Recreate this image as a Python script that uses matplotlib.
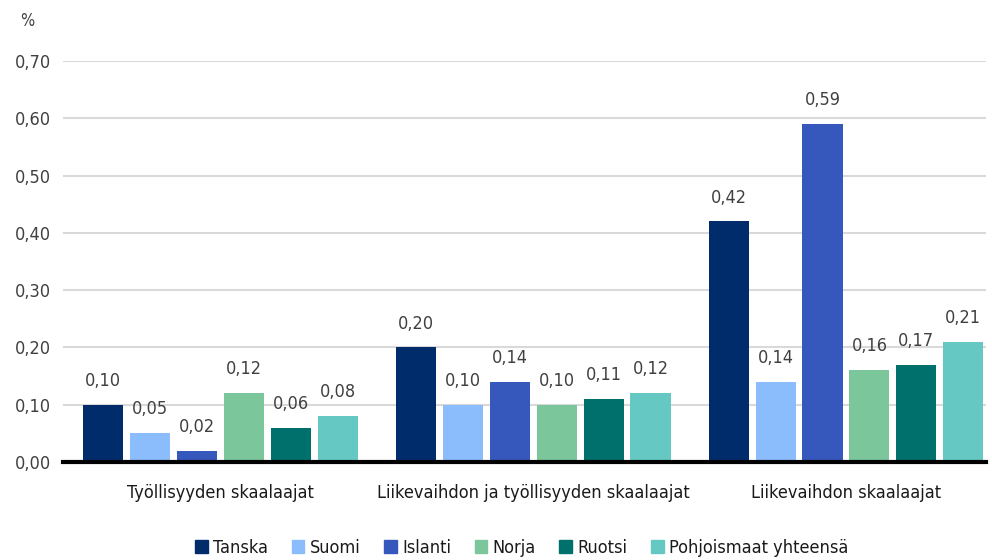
import numpy as np
import matplotlib
matplotlib.use('Agg')
import matplotlib.pyplot as plt
from matplotlib.patches import Patch

plt.rcParams['font.family'] = ['DejaVu Sans']
plt.rcParams['font.stretch'] = 'condensed'

groups = ['Työllisyyden skaalaajat', 'Liikevaihdon ja työllisyyden skaalaajat', 'Liikevaihdon skaalaajat']
series = ['Tanska', 'Suomi', 'Islanti', 'Norja', 'Ruotsi', 'Pohjoismaat yhteensä']
colors = ['#002C6B', '#8BBCFB', '#3658BC', '#7BC69A', '#00706D', '#66C8C3']

tanska = [0.10, 0.20, 0.42]
suomi = [0.05, 0.10, 0.14]
islanti = [0.02, 0.14, 0.59]
norja = [0.12, 0.10, 0.16]
ruotsi = [0.06, 0.11, 0.17]
pohjoismaat = [0.08, 0.12, 0.21]
values = [tanska, suomi, islanti, norja, ruotsi, pohjoismaat]

yticks = [0.0, 0.1, 0.2, 0.3, 0.4, 0.5, 0.6, 0.7]

fig = plt.figure(figsize=(9.92, 5.6), dpi=100, facecolor='white')
ax = fig.add_axes([0.064, 0.175, 0.93, 0.716])

x = np.arange(len(groups))
pitch = 0.150
width = 0.128
txt = '#404040'
for i, (name, vals, c) in enumerate(zip(series, values, colors)):
    pos = x + (i - 2.5) * pitch
    ax.bar(pos, vals, width=width, color=c, zorder=3)
    for p, v in zip(pos, vals):
        ax.text(p, v + 0.026, f'{v:.2f}'.replace('.', ','), ha='center', va='bottom',
                fontsize=13, color=txt)

ax.set_xlim(-0.502, 2.448)
ax.set_ylim(0, 0.7)
ax.set_yticks(yticks)
ax.set_yticklabels([f'{t:.2f}'.replace('.', ',') for t in yticks], fontsize=13, color=txt)
ax.set_xticks(x)
ax.set_xticklabels(groups, fontsize=13, color='#1a1a1a')
ax.tick_params(axis='both', length=0, pad=9)
ax.tick_params(axis='x', pad=16)
ax.grid(axis='y', color='#d9d9d9', linewidth=1.5, zorder=0)
for s in ['top', 'right', 'left']:
    ax.spines[s].set_visible(False)
ax.spines['bottom'].set_linewidth(3)
ax.spines['bottom'].set_color('black')
ax.spines['bottom'].set_zorder(4)

fig.text(0.027, 0.963, '%', fontsize=12, color=txt, ha='center', va='center')

handles = [Patch(color=c, label=n) for n, c in zip(series, colors)]
fig.legend(handles=handles, loc='center', bbox_to_anchor=(0.526, 0.022), ncol=6,
           frameon=False, fontsize=13, handlelength=0.7, handleheight=0.7,
           handletextpad=0.3, columnspacing=1.3, labelcolor='#1a1a1a')

plt.savefig('out.png', dpi=100, facecolor='white')
plt.close()
